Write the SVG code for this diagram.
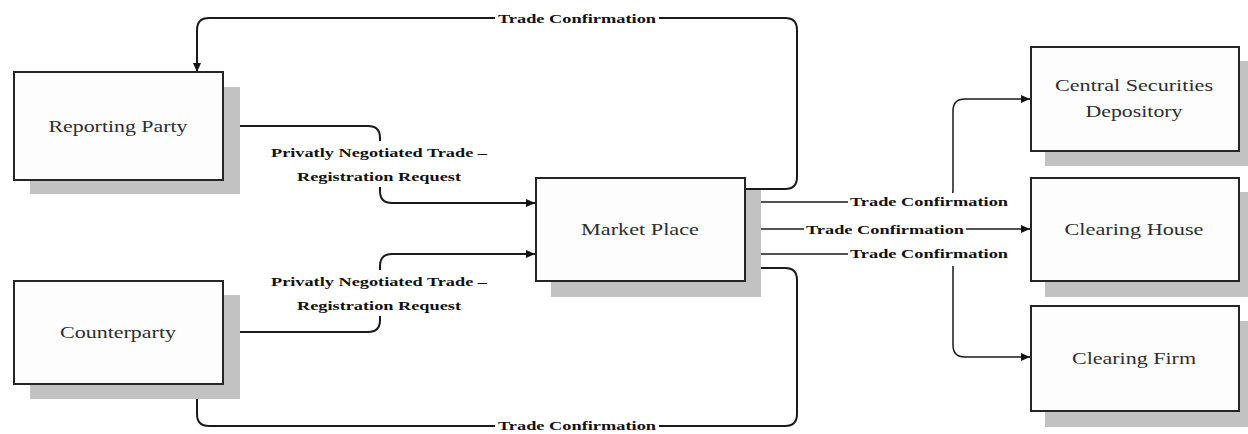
<svg xmlns="http://www.w3.org/2000/svg" width="1248" height="434" viewBox="0 0 1248 434">
  <style>
    .shadow { fill: #c2c2c2; }
    .box { fill: #fdfdfd; stroke: #262626; stroke-width: 2; }
    .name { font-family: 'Liberation Serif', 'DejaVu Serif', serif; font-size: 17px; fill: #2e2e2e; text-anchor: middle; }
    .wire { fill: none; stroke: #1a1a1a; stroke-width: 2; }
    .thin { fill: none; stroke: #1a1a1a; stroke-width: 1.5; }
    .lbl { font-family: 'Liberation Serif', 'DejaVu Serif', serif; font-size: 13.5px; font-weight: bold; fill: #111; text-anchor: middle; }
    .lblbg { fill: #ffffff; }
  </style>
  <defs>
    <marker id="arrow" markerWidth="9" markerHeight="8" refX="9" refY="4" orient="auto" markerUnits="userSpaceOnUse">
      <path d="M0,0 L9,4 L0,8 Z" fill="#111"/>
    </marker>
  </defs>
  <rect width="1248" height="434" fill="#ffffff"/>

  <!-- connectors -->
  <g id="connectors">
    <!-- Market Place -> Reporting Party (top loop) -->
    <path class="wire" d="M745,189 H785 Q797,189 797,177 V30 Q797,18 785,18 H209 Q197,18 197,30 V72" marker-end="url(#arrow)"/>
    <rect class="lblbg" x="495" y="11" width="164" height="15"/>
    <text class="lbl" x="577" y="23" textLength="158" lengthAdjust="spacingAndGlyphs">Trade Confirmation</text>

    <!-- Reporting Party -> Market Place -->
    <path class="wire" d="M223,126 H368 Q380,126 380,138 V191 Q380,203 392,203 H535" marker-end="url(#arrow)"/>
    <rect class="lblbg" x="266" y="141" width="226" height="46"/>
    <text class="lbl" x="379" y="157" textLength="216" lengthAdjust="spacingAndGlyphs">Privatly Negotiated Trade –</text>
    <text class="lbl" x="379" y="181" textLength="164" lengthAdjust="spacingAndGlyphs">Registration Request</text>

    <!-- Counterparty -> Market Place -->
    <path class="wire" d="M223,332 H368 Q380,332 380,320 V266 Q380,254 392,254 H535" marker-end="url(#arrow)"/>
    <rect class="lblbg" x="266" y="270" width="226" height="46"/>
    <text class="lbl" x="379" y="286" textLength="216" lengthAdjust="spacingAndGlyphs">Privatly Negotiated Trade –</text>
    <text class="lbl" x="379" y="310" textLength="164" lengthAdjust="spacingAndGlyphs">Registration Request</text>

    <!-- Market Place -> Counterparty (bottom loop) -->
    <path class="wire" d="M745,268 H785 Q797,268 797,280 V414 Q797,426 785,426 H209 Q197,426 197,414 V384" marker-end="url(#arrow)"/>
    <rect class="lblbg" x="495" y="419" width="164" height="15"/>
    <text class="lbl" x="577" y="430" textLength="158" lengthAdjust="spacingAndGlyphs">Trade Confirmation</text>

    <!-- Market Place -> Central Securities Depository -->
    <path class="thin" d="M745,202 H941 Q953,202 953,190 V111 Q953,99 965,99 H1030" marker-end="url(#arrow)"/>
    <rect class="lblbg" x="848" y="193" width="162" height="16"/>
    <text class="lbl" x="929" y="206" textLength="158" lengthAdjust="spacingAndGlyphs">Trade Confirmation</text>

    <!-- Market Place -> Clearing House -->
    <path class="thin" d="M745,229 H1030" marker-end="url(#arrow)"/>
    <rect class="lblbg" x="804" y="221" width="162" height="16"/>
    <text class="lbl" x="885" y="234" textLength="158" lengthAdjust="spacingAndGlyphs">Trade Confirmation</text>

    <!-- Market Place -> Clearing Firm -->
    <path class="thin" d="M745,254 H941 Q953,254 953,266 V345 Q953,357 965,357 H1030" marker-end="url(#arrow)"/>
    <rect class="lblbg" x="848" y="245" width="162" height="21"/>
    <text class="lbl" x="929" y="258" textLength="158" lengthAdjust="spacingAndGlyphs">Trade Confirmation</text>
  </g>

  <!-- nodes -->
  <g id="reporting-party">
    <rect class="shadow" x="30" y="87" width="210" height="107"/>
    <rect class="box" x="14" y="72" width="209" height="108"/>
    <text class="name" x="118" y="132" textLength="139" lengthAdjust="spacingAndGlyphs">Reporting Party</text>
  </g>

  <g id="counterparty">
    <rect class="shadow" x="30" y="295" width="210" height="104"/>
    <rect class="box" x="14" y="281" width="209" height="103"/>
    <text class="name" x="118" y="338" textLength="116" lengthAdjust="spacingAndGlyphs">Counterparty</text>
  </g>

  <g id="market-place">
    <rect class="shadow" x="551" y="190" width="210" height="107"/>
    <rect class="box" x="536" y="178" width="209" height="103"/>
    <text class="name" x="640" y="235" textLength="118" lengthAdjust="spacingAndGlyphs">Market Place</text>
  </g>

  <g id="central-securities-depository">
    <rect class="shadow" x="1045" y="61" width="210" height="105"/>
    <rect class="box" x="1031" y="47" width="208" height="104"/>
    <text class="name" x="1134" y="91" textLength="158" lengthAdjust="spacingAndGlyphs">Central Securities</text>
    <text class="name" x="1134" y="117" textLength="97" lengthAdjust="spacingAndGlyphs">Depository</text>
  </g>

  <g id="clearing-house">
    <rect class="shadow" x="1045" y="192" width="210" height="105"/>
    <rect class="box" x="1031" y="178" width="208" height="103"/>
    <text class="name" x="1134" y="235" textLength="139" lengthAdjust="spacingAndGlyphs">Clearing House</text>
  </g>

  <g id="clearing-firm">
    <rect class="shadow" x="1045" y="321" width="210" height="106"/>
    <rect class="box" x="1031" y="306" width="208" height="105"/>
    <text class="name" x="1134" y="364" textLength="124" lengthAdjust="spacingAndGlyphs">Clearing Firm</text>
  </g>
</svg>
